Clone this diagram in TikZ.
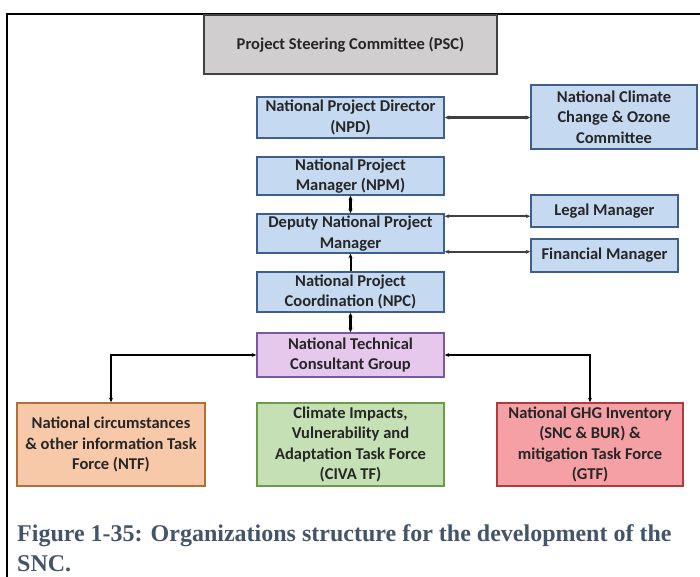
\documentclass[tikz,border=0pt]{standalone}
\usepackage{fontspec}
\setmainfont{Carlito}
\newfontfamily\capfont{Liberation Serif}
\usetikzlibrary{arrows.meta}
\definecolor{bluefill}{RGB}{197,217,241}
\definecolor{blueline}{RGB}{63,95,138}
\definecolor{greyfill}{RGB}{208,206,206}
\definecolor{greyline}{RGB}{64,64,64}
\definecolor{lilacfill}{RGB}{229,200,236}
\definecolor{lilacline}{RGB}{122,90,154}
\definecolor{peachfill}{RGB}{248,201,168}
\definecolor{peachline}{RGB}{176,112,60}
\definecolor{greenfill}{RGB}{197,224,180}
\definecolor{greenline}{RGB}{111,154,74}
\definecolor{pinkfill}{RGB}{244,160,164}
\definecolor{pinkline}{RGB}{178,58,62}
\definecolor{captext}{RGB}{68,84,106}

\begin{document}
\begin{tikzpicture}[x=1pt,y=-1pt,
  box/.style={draw=blueline,fill=bluefill,line width=1.5pt,align=center,inner sep=0pt,
    font=\bfseries\fontsize{16.5}{20.5}\selectfont,text=black!85,minimum width=187pt},
  twoway/.style={{Stealth[length=4.5pt,width=4pt]}-{Stealth[length=4.5pt,width=4pt]},line width=2.2pt,draw=greyline},
  oneway/.style={-{Stealth[length=4.5pt,width=4pt]},line width=2pt,draw=black}]
\useasboundingbox (0,0) rectangle (700,577);
\draw[line width=2pt] (7,577) -- (7,14) -- (700,14);
\node[box,draw=greyline,fill=greyfill,line width=2pt,minimum width=293pt,minimum height=59pt] (psc) at (350.5,44.5) {Project Steering Committee (PSC)};
\node[box,minimum height=41pt] (npd) at (350.5,117.5) {National Project Director\\(NPD)};
\node[box,minimum width=166pt,minimum height=64pt] (nccoc) at (614,117) {National Climate\\Change \& Ozone\\Committee};
\node[box,minimum height=38pt] (npm) at (350.5,176) {National Project\\Manager (NPM)};
\node[box,minimum height=39pt] (dnpm) at (350.5,233.5) {Deputy National Project\\Manager};
\node[box,minimum width=147pt,minimum height=32pt] (legal) at (604.5,211) {Legal Manager};
\node[box,minimum width=147pt,minimum height=33pt] (fin) at (604.5,255.5) {Financial Manager};
\node[box,minimum height=40pt] (npc) at (350.5,292) {National Project\\Coordination (NPC)};
\node[box,draw=lilacline,fill=lilacfill,minimum height=44pt] (ntcg) at (350.5,355) {National Technical\\Consultant Group};
\node[box,draw=peachline,fill=peachfill,minimum width=188pt,minimum height=83pt] (ntf) at (111,444.5) {National circumstances\\\& other information Task\\Force (NTF)};
\node[box,draw=greenline,fill=greenfill,minimum height=83pt] (civa) at (350.5,444.5) {Climate Impacts,\\Vulnerability and\\Adaptation Task Force\\(CIVA TF)};
\node[box,draw=pinkline,fill=pinkfill,minimum width=186pt,minimum height=83pt] (gtf) at (590,444.5) {National GHG Inventory\\(SNC \& BUR) \&\\mitigation Task Force\\(GTF)};
\draw[twoway] (npd.east) -- (npd.east -| nccoc.west);
\draw[twoway] ([yshift=-3pt]dnpm.north east) -- ([yshift=-3pt]dnpm.north east -| legal.west);
\draw[twoway] ([yshift=2pt]dnpm.south east) -- ([yshift=2pt]dnpm.south east -| fin.west);
\draw[twoway,draw=black] (npm.south) -- (dnpm.north);
\draw[oneway] (npc.north) -- (dnpm.south);
\draw[twoway,draw=black] (npc.south) -- (ntcg.north);
\draw[twoway,draw=black] (ntcg.west) -| (ntf.north);
\draw[twoway,draw=black] (ntcg.east) -| (gtf.north);
\node[anchor=north west,align=left,inner sep=0pt,text=captext,font=\capfont\bfseries\fontsize{24}{30}\selectfont] (caption) at (17,524) {Figure 1-35: Organizations structure for the development of the\\SNC.};
\end{tikzpicture}
\end{document}
